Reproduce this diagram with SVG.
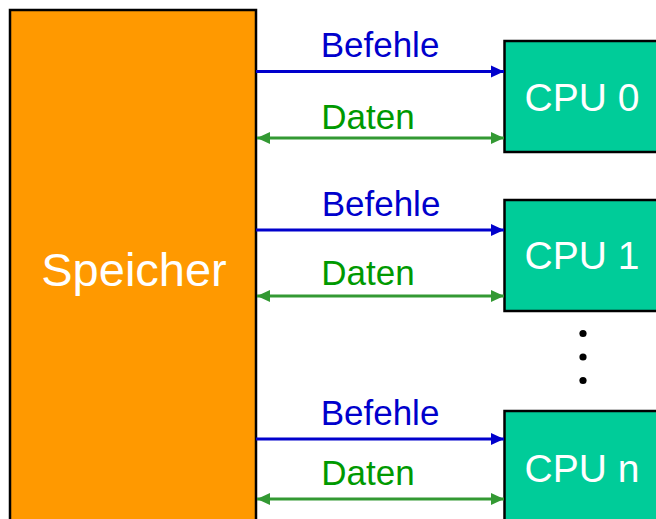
<svg xmlns="http://www.w3.org/2000/svg" width="656" height="519" viewBox="0 0 656 519">
<style>
text{font-family:"Liberation Sans",Arial,sans-serif}
.cpu rect{fill:#00CC99;stroke:#000;stroke-width:2.5}
.cpu text{fill:#fff;font-size:39px;text-anchor:middle}
.bef{fill:#0000CC;font-size:35px;text-anchor:middle}
.dat{fill:#009900;font-size:35px;text-anchor:middle}
.lb{stroke:#0000CC;stroke-width:3;fill:none;marker-end:url(#ab)}
.lg{stroke:#339933;stroke-width:3;fill:none;marker-end:url(#ag);marker-start:url(#ag)}
</style>
<defs>
<marker id="ab" markerUnits="userSpaceOnUse" markerWidth="14" markerHeight="14" refX="13" refY="6.5" orient="auto-start-reverse" viewBox="0 0 14 14">
<path d="M0,0.5 L13,6.5 L0,12.5 z" fill="#0000CC"/>
</marker>
<marker id="ag" markerUnits="userSpaceOnUse" markerWidth="14" markerHeight="14" refX="13" refY="6.5" orient="auto-start-reverse" viewBox="0 0 14 14">
<path d="M0,0.5 L13,6.5 L0,12.5 z" fill="#339933"/>
</marker>
</defs>
<g id="speicher">
<rect x="10" y="10" width="246" height="520" fill="#FF9900" stroke="#000" stroke-width="2.5"/>
<text x="134" y="286" fill="#fff" font-size="47" text-anchor="middle">Speicher</text>
</g>
<g id="cpu0" class="cpu">
<rect x="504.5" y="41" width="160" height="111"/>
<text x="582" y="111">CPU 0</text>
</g>
<g id="cpu1" class="cpu">
<rect x="504.5" y="200" width="160" height="111"/>
<text x="582" y="269">CPU 1</text>
</g>
<g id="cpun" class="cpu">
<rect x="504.5" y="411" width="160" height="120"/>
<text x="582" y="482">CPU n</text>
</g>
<g id="dots" fill="#000">
<circle cx="583" cy="333.5" r="3.6"/>
<circle cx="583" cy="357" r="3.6"/>
<circle cx="583" cy="380.5" r="3.6"/>
</g>
<g id="connectors">
<path class="lb" d="M256,71.5 H504"/>
<path class="lg" d="M257,138 H504"/>
<path class="lb" d="M256,230 H504"/>
<path class="lg" d="M257,296 H504"/>
<path class="lb" d="M256,439 H504"/>
<path class="lg" d="M257,499 H504"/>
</g>
<g id="labels">
<text class="bef" x="380" y="57">Befehle</text>
<text class="dat" x="368" y="129">Daten</text>
<text class="bef" x="381" y="216">Befehle</text>
<text class="dat" x="368" y="285">Daten</text>
<text class="bef" x="380" y="425">Befehle</text>
<text class="dat" x="368" y="485">Daten</text>
</g>
</svg>
